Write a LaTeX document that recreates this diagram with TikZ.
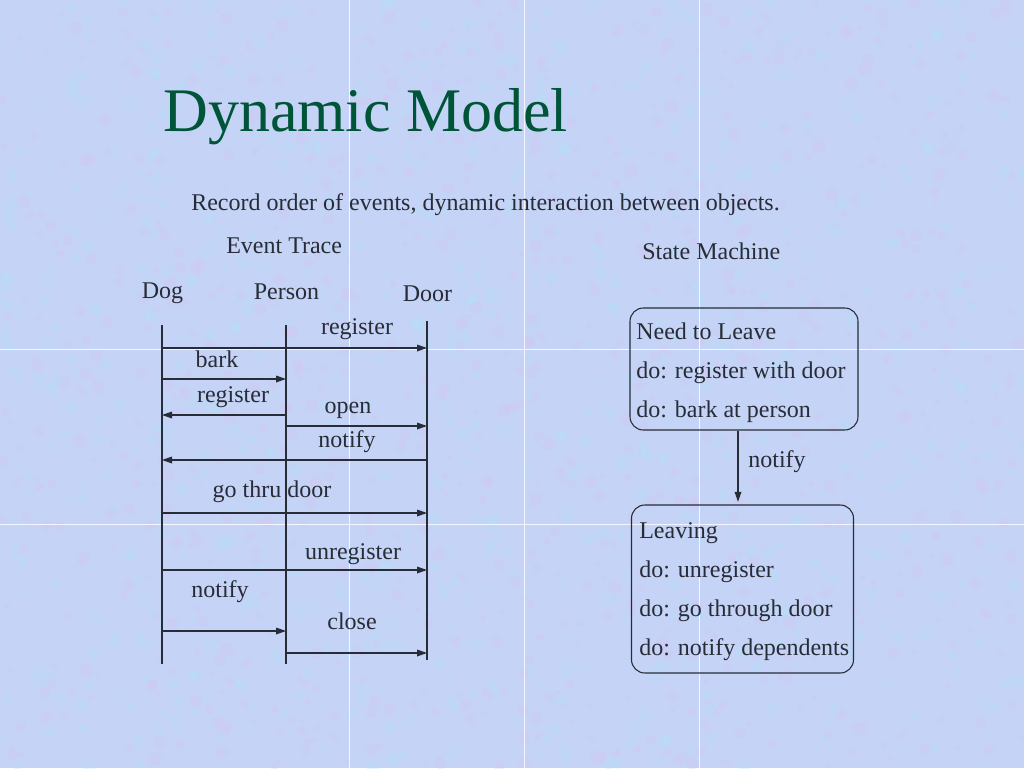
\documentclass[tikz,border=0pt]{standalone}
\usepackage{fontspec}
\setmainfont{Liberation Serif}
\usetikzlibrary{arrows.meta}

\definecolor{slidebg}{RGB}{196,211,246}
\definecolor{lilac}{RGB}{214,200,242}
\definecolor{aqua}{RGB}{182,224,247}
\definecolor{titlegreen}{RGB}{0,84,56}
\definecolor{ink}{RGB}{40,44,54}

\tikzset{
  txt/.style={inner sep=0pt, anchor=base, text=ink, font=\fontsize{18}{22}\selectfont},
  lifeline/.style={draw=ink, line width=0.9pt},
  msg/.style={draw=ink, line width=0.9pt, -{Triangle[length=7.5pt,width=5pt]}},
  state/.style={draw=ink, line width=0.8pt, rounded corners=10pt, inner sep=0pt}
}

\begin{document}
\begin{tikzpicture}[x=0.75pt,y=-0.75pt]
  \fill[slidebg] (0,0) rectangle (1024,768);
  \useasboundingbox (0,0) rectangle (1024,768);
  % texture
  \pgfmathsetseed{7}
  \foreach \k in {1,...,1800}{
    \pgfmathsetmacro{\bx}{rnd*1024}
    \pgfmathsetmacro{\by}{rnd*768}
    \pgfmathsetmacro{\br}{2+rnd*5}
    \ifodd\k
      \fill[lilac, opacity=0.3] (\bx,\by) circle (\br*0.75pt);
    \else
      \fill[aqua, opacity=0.3] (\bx,\by) circle (\br*0.75pt);
    \fi
  }
  \foreach \gx in {349,524,699}
    \draw[white, opacity=0.8, line width=0.6pt] (\gx,0) -- (\gx,768);
  \foreach \gy in {349,524}
    \draw[white, opacity=0.8, line width=0.6pt] (0,\gy) -- (1024,\gy);

  \node [inner sep=0pt, anchor=base west, text=titlegreen, font=\fontsize{46.5}{50}\selectfont] (title) at (163,131) {Dynamic Model};
  \node [txt, anchor=base west] (intro) at (191,210) {Record order of events, dynamic interaction between objects.};
  \node [txt, anchor=base west] (trace) at (226,253) {Event Trace};
  \node [txt, anchor=base west] (machine) at (642,259) {State Machine};

  % event trace
  \foreach \obj/\name/\x/\ty/\by/\hy in {dog/Dog/162/325/664/298,person/Person/286/325/664/299,door/Door/427/321/660/301}{
    \node [txt] (\obj-head) at (\x+0.5,\hy) {\name};
    \coordinate (\obj) at (\x,\ty);
    \coordinate (\obj-end) at (\x,\by);
    \draw [lifeline] (\obj) -- (\obj-end);
  }
  \foreach \a/\b/\y/\lx/\ly/\t [count=\i] in {
      dog/door/348/357/334/register,
      dog/person/379/217/367/bark,
      person/dog/415/233/402/register,
      person/door/426/348/413/open,
      door/dog/460/347/447/notify,
      dog/door/513/272/497/go thru door,
      dog/door/570/353/559/unregister,
      dog/person/631/220/597/notify,
      person/door/653/352/629/close}{
    \draw [msg] (\a |- 0,\y) -- (\b |- 0,\y);
    \node [txt] (label-\i) at (\lx,\ly) {\t};
  }

  % state machine
  \node [state, minimum width=228*0.75pt, minimum height=122*0.75pt] (need) at (744,369) {};
  \node [state, minimum width=222*0.75pt, minimum height=168*0.75pt] (leaving) at (742.5,589) {};
  \foreach \t [count=\i] in {Need to Leave,do: register with door,do: bark at person}
    \node [txt, anchor=base west] (need-\i) at (636,300+39*\i) {\t};
  \foreach \t [count=\i] in {Leaving,do: unregister,do: go through door,do: notify dependents}
    \node [txt, anchor=base west] (leaving-\i) at (639,499+39*\i) {\t};
  \draw [msg] ([xshift=-4.5pt]need.south) -- ([xshift=-4.5pt,yshift=2pt]need.south |- leaving.north);
  \node [txt] (notify) at (777,467) {notify};
\end{tikzpicture}
\end{document}
